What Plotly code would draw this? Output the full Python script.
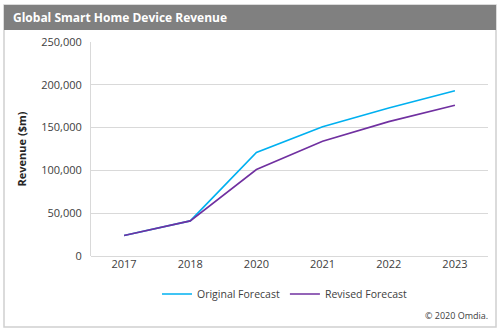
import plotly.graph_objects as go

# Global smart home device revenue, $m
years = ["2017", "2018", "2020", "2021", "2022", "2023"]
original_forecast = [24000, 41000, 121000, 151000, 173000, 193000]
revised_forecast = [24000, 41000, 101000, 134000, 157000, 176000]
y_ticks = [0, 50000, 100000, 150000, 200000, 250000]

W, H = 500, 332
L, R, T, B = 91, 12, 42, 76
pw, ph = W - L - R, H - T - B


def px(x):
    return (x - L) / pw


def py(y):
    return (H - B - y) / ph


fig = go.Figure()
fig.add_trace(go.Scatter(
    x=years, y=original_forecast, mode="lines", name="Original Forecast",
    line=dict(color="#00B0F0", width=1.6),
))
fig.add_trace(go.Scatter(
    x=years, y=revised_forecast, mode="lines", name="Revised Forecast",
    line=dict(color="#7030A0", width=1.6),
))

shapes = [
    # outer frame
    dict(type="rect", xref="paper", yref="paper",
         x0=px(4), x1=px(496), y0=py(327), y1=py(5),
         line=dict(color="#D0D0D0", width=1.5), fillcolor="rgba(0,0,0,0)", layer="below"),
    # title bar
    dict(type="rect", xref="paper", yref="paper",
         x0=px(4), x1=px(496), y0=py(30), y1=py(5),
         line=dict(width=0), fillcolor="#808080", layer="below"),
]

fig.update_layout(
    width=W, height=H,
    margin=dict(l=L, r=R, t=T, b=B),
    paper_bgcolor="white", plot_bgcolor="white",
    font=dict(family="Open Sans", size=11, color="#404040"),
    shapes=shapes,
    showlegend=True,
    legend=dict(orientation="h", x=px(285), xanchor="center", y=py(294), yanchor="middle",
                font=dict(size=10.5, color="#404040"), itemwidth=30, tracegroupgap=0,
                bgcolor="rgba(0,0,0,0)"),
    annotations=[
        dict(text="<b>Global Smart Home Device Revenue</b>", xref="paper", yref="paper",
             x=px(11), y=py(17.5), xanchor="left", yanchor="middle", showarrow=False,
             font=dict(size=12, color="white", family="Open Sans")),
        dict(text="© 2020 Omdia.", xref="paper", yref="paper",
             x=px(490), y=py(315), xanchor="right", yanchor="middle", showarrow=False,
             font=dict(size=9, color="#404040")),
    ],
    xaxis=dict(type="category", range=[-0.5, 5.5], showgrid=False,
               showline=False, ticks="", tickfont=dict(size=11, color="#404040")),
    yaxis=dict(range=[0, 250000], tickvals=y_ticks, tickformat=",d",
               showgrid=True, gridcolor="#D9D9D9", gridwidth=1,
               zeroline=True, zerolinecolor="#D9D9D9", zerolinewidth=1,
               showline=True, linecolor="#D9D9D9", linewidth=1, ticks="",
               ticklabelstandoff=6,
               title=dict(text="<b>Revenue ($m)</b>", standoff=12,
                          font=dict(size=11, color="#262626"))),
)

fig.write_html("out.html")
